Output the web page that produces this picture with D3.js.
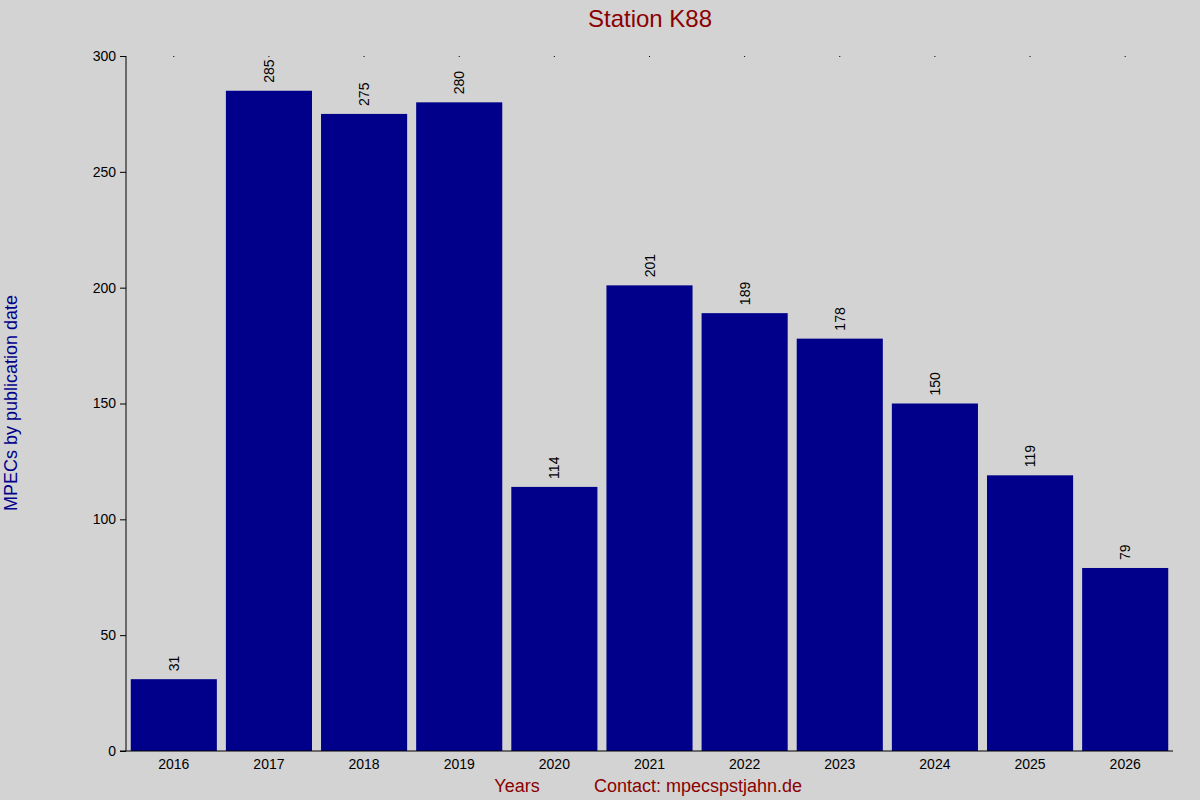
<!DOCTYPE html>
<html>
<head>
<meta charset="UTF-8">
<script src="https://d3js.org/d3.v7.min.js"></script>
<style>
  body { margin: 0; background: #d3d3d3; }
  text { font-family: "Liberation Sans", Arial, sans-serif; }
</style>
</head>
<body>
<div class="canvas"></div>
<script>
  const years = ['2016','2017','2018','2019','2020','2021','2022','2023','2024','2025','2026'];
  const counts = [31, 285, 275, 280, 114, 201, 189, 178, 150, 119, 79];
  const yTicks = [0, 50, 100, 150, 200, 250, 300];

  const width = 1200, height = 800;
  const [ml, mr, mt, mb] = [126, 27, 56, 49];
  const gw = width - ml - mr, gh = height - mt - mb;

  const svg = d3.select('.canvas').append('svg')
    .attr('width', width).attr('height', height)
    .style('background', '#d3d3d3');

  const g = svg.append('g').attr('transform', `translate(${ml},${mt})`);

  const x = d3.scaleBand().domain(years).range([0, gw]).paddingInner(0.095).paddingOuter(0.05);
  const y = d3.scaleLinear().domain([0, 300]).range([gh, 0]);

  g.selectAll('rect').data(counts).enter().append('rect')
    .attr('x', (d, i) => x(years[i]))
    .attr('y', d => y(d))
    .attr('width', x.bandwidth())
    .attr('height', d => gh - y(d))
    .attr('fill', '#00008b');

  g.selectAll('.lbl').data(counts).enter().append('text')
    .attr('class', 'lbl')
    .attr('transform', (d, i) => `translate(${x(years[i]) + x.bandwidth() / 2 + 5},${y(d) - 8}) rotate(-90)`)
    .attr('font-size', 14)
    .text(d => d);

  // top dots at category centres
  g.selectAll('.dot').data(years).enter().append('line')
    .attr('x1', d => x(d) + x.bandwidth() / 2).attr('x2', d => x(d) + x.bandwidth() / 2)
    .attr('y1', 0).attr('y2', 1).attr('stroke', '#000');

  const xAxis = g.append('g').attr('transform', `translate(0,${gh})`)
    .call(d3.axisBottom(x).tickSize(0).tickPadding(8));
  xAxis.select('.domain').attr('d', `M-6,0H${gw}`);
  xAxis.selectAll('text').attr('font-size', 14).attr('fill', '#000');

  const yAxis = g.append('g')
    .call(d3.axisLeft(y).tickValues(yTicks).tickSize(6).tickPadding(4));
  yAxis.select('.domain').attr('d', `M0,${gh}V0`);
  yAxis.selectAll('text').attr('font-size', 14).attr('fill', '#000');

  svg.append('text').attr('x', 650).attr('y', 27).attr('text-anchor', 'middle')
    .attr('font-size', 24).attr('fill', '#8b0000').text('Station K88');

  svg.append('text').attr('transform', 'translate(17,403) rotate(-90)')
    .attr('text-anchor', 'middle').attr('font-size', 18).attr('fill', '#00008b')
    .text('MPECs by publication date');

  svg.append('text').attr('x', 517).attr('y', 792).attr('text-anchor', 'middle')
    .attr('font-size', 18).attr('fill', '#8b0000').text('Years');
  svg.append('text').attr('x', 698).attr('y', 792).attr('text-anchor', 'middle')
    .attr('font-size', 18).attr('fill', '#8b0000').text('Contact: mpecspstjahn.de');
</script>
</body>
</html>
